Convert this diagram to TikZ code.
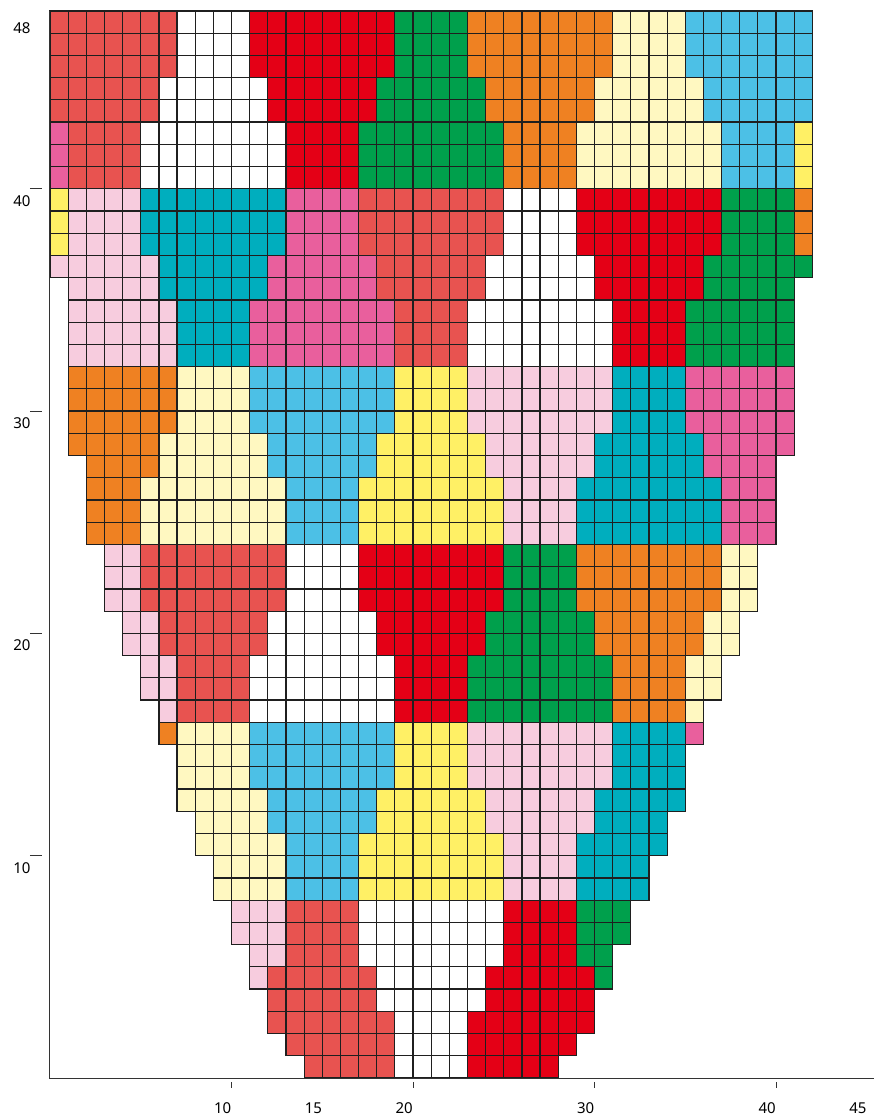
\documentclass[tikz,border=0pt]{standalone}
\usepackage{fontspec}
\setmainfont{Noto Sans}
\definecolor{cS}{HTML}{E85350}
\definecolor{cR}{HTML}{E40016}
\definecolor{cG}{HTML}{00A04C}
\definecolor{cO}{HTML}{EF8122}
\definecolor{cC}{HTML}{FFF8C1}
\definecolor{cB}{HTML}{4CC0E6}
\definecolor{cY}{HTML}{FFF065}
\definecolor{cT}{HTML}{00AEBE}
\definecolor{cP}{HTML}{E95F9D}
\definecolor{cL}{HTML}{F7CCDE}
\definecolor{cW}{HTML}{FFFFFF}
\begin{document}
\begin{tikzpicture}[x=18.15pt,y=22.23pt,
  cell/.style={draw=black!88, line width=1.2pt},
  axisline/.style={draw=black!80, line width=1pt},
  ticklabel/.style={font=\fontsize{15}{15}\selectfont, inner sep=0pt}]
\useasboundingbox (-50pt,-40pt) rectangle (824pt,1078pt);
\foreach \r/\runs in {
48/{1/7/S,8/11/W,12/19/R,20/23/G,24/31/O,32/35/C,36/42/B},
47/{1/7/S,8/11/W,12/19/R,20/23/G,24/31/O,32/35/C,36/42/B},
46/{1/7/S,8/11/W,12/19/R,20/23/G,24/31/O,32/35/C,36/42/B},
45/{1/6/S,7/12/W,13/18/R,19/24/G,25/30/O,31/36/C,37/42/B},
44/{1/6/S,7/12/W,13/18/R,19/24/G,25/30/O,31/36/C,37/42/B},
43/{1/1/P,2/5/S,6/13/W,14/17/R,18/25/G,26/29/O,30/37/C,38/41/B,42/42/Y},
42/{1/1/P,2/5/S,6/13/W,14/17/R,18/25/G,26/29/O,30/37/C,38/41/B,42/42/Y},
41/{1/1/P,2/5/S,6/13/W,14/17/R,18/25/G,26/29/O,30/37/C,38/41/B,42/42/Y},
40/{1/1/Y,2/5/L,6/13/T,14/17/P,18/25/S,26/29/W,30/37/R,38/41/G,42/42/O},
39/{1/1/Y,2/5/L,6/13/T,14/17/P,18/25/S,26/29/W,30/37/R,38/41/G,42/42/O},
38/{1/1/Y,2/5/L,6/13/T,14/17/P,18/25/S,26/29/W,30/37/R,38/41/G,42/42/O},
37/{1/6/L,7/12/T,13/18/P,19/24/S,25/30/W,31/36/R,37/42/G},
36/{2/6/L,7/12/T,13/18/P,19/24/S,25/30/W,31/36/R,37/41/G},
35/{2/7/L,8/11/T,12/19/P,20/23/S,24/31/W,32/35/R,36/41/G},
34/{2/7/L,8/11/T,12/19/P,20/23/S,24/31/W,32/35/R,36/41/G},
33/{2/7/L,8/11/T,12/19/P,20/23/S,24/31/W,32/35/R,36/41/G},
32/{2/7/O,8/11/C,12/19/B,20/23/Y,24/31/L,32/35/T,36/41/P},
31/{2/7/O,8/11/C,12/19/B,20/23/Y,24/31/L,32/35/T,36/41/P},
30/{2/7/O,8/11/C,12/19/B,20/23/Y,24/31/L,32/35/T,36/41/P},
29/{2/6/O,7/12/C,13/18/B,19/24/Y,25/30/L,31/36/T,37/41/P},
28/{3/6/O,7/12/C,13/18/B,19/24/Y,25/30/L,31/36/T,37/40/P},
27/{3/5/O,6/13/C,14/17/B,18/25/Y,26/29/L,30/37/T,38/40/P},
26/{3/5/O,6/13/C,14/17/B,18/25/Y,26/29/L,30/37/T,38/40/P},
25/{3/5/O,6/13/C,14/17/B,18/25/Y,26/29/L,30/37/T,38/40/P},
24/{4/5/L,6/13/S,14/17/W,18/25/R,26/29/G,30/37/O,38/39/C},
23/{4/5/L,6/13/S,14/17/W,18/25/R,26/29/G,30/37/O,38/39/C},
22/{4/5/L,6/13/S,14/17/W,18/25/R,26/29/G,30/37/O,38/39/C},
21/{5/6/L,7/12/S,13/18/W,19/24/R,25/30/G,31/36/O,37/38/C},
20/{5/6/L,7/12/S,13/18/W,19/24/R,25/30/G,31/36/O,37/38/C},
19/{6/7/L,8/11/S,12/19/W,20/23/R,24/31/G,32/35/O,36/37/C},
18/{6/7/L,8/11/S,12/19/W,20/23/R,24/31/G,32/35/O,36/37/C},
17/{7/7/L,8/11/S,12/19/W,20/23/R,24/31/G,32/35/O,36/36/C},
16/{7/7/O,8/11/C,12/19/B,20/23/Y,24/31/L,32/35/T,36/36/P},
15/{8/11/C,12/19/B,20/23/Y,24/31/L,32/35/T},
14/{8/11/C,12/19/B,20/23/Y,24/31/L,32/35/T},
13/{8/12/C,13/18/B,19/24/Y,25/30/L,31/35/T},
12/{9/12/C,13/18/B,19/24/Y,25/30/L,31/34/T},
11/{9/13/C,14/17/B,18/25/Y,26/29/L,30/34/T},
10/{10/13/C,14/17/B,18/25/Y,26/29/L,30/33/T},
9/{10/13/C,14/17/B,18/25/Y,26/29/L,30/33/T},
8/{11/13/L,14/17/S,18/25/W,26/29/R,30/32/G},
7/{11/13/L,14/17/S,18/25/W,26/29/R,30/32/G},
6/{12/13/L,14/17/S,18/25/W,26/29/R,30/31/G},
5/{12/12/L,13/18/S,19/24/W,25/30/R,31/31/G},
4/{13/18/S,19/24/W,25/30/R},
3/{13/19/S,20/23/W,24/30/R},
2/{14/19/S,20/23/W,24/29/R},
1/{15/19/S,20/23/W,24/28/R}}{
  \foreach \a/\b/\k in \runs {
    \foreach \c in {\a,...,\b} {
      \filldraw[cell, fill=c\k] (\c-1,\r-1) rectangle (\c,\r);
    }
  }
}
% axes
\coordinate (o) at (0,0);
\coordinate (ytop) at (0,48);
\coordinate (xend) at (824pt,0);
\draw[axisline] (ytop) -- (o) -- (xend);
% y ticks and labels
\foreach \v in {10,20,30,40} {
  \coordinate (yt\v) at (0,\v);
  \draw[axisline] ([xshift=-20pt]yt\v) -- ([xshift=-8pt]yt\v);
  \node[ticklabel] (yl\v) at ([xshift=-28pt,yshift=-12pt]yt\v) {\v};
}
\coordinate (yt48) at (0,48);
\node[ticklabel] (yl48) at ([xshift=-28pt,yshift=-17pt]yt48) {48};
% x ticks and labels
\foreach \v in {10,20,30,40} {
  \coordinate (xt\v) at (\v,0);
  \draw[axisline] ([yshift=-4pt]xt\v) -- ([yshift=-10pt]xt\v);
}
\foreach \v in {10,15,20,30,40,45} {
  \coordinate (xl\v) at (\v,0);
  \node[ticklabel, anchor=east] (xn\v) at ([yshift=-30pt]xl\v) {\v};
}
\end{tikzpicture}
\end{document}
